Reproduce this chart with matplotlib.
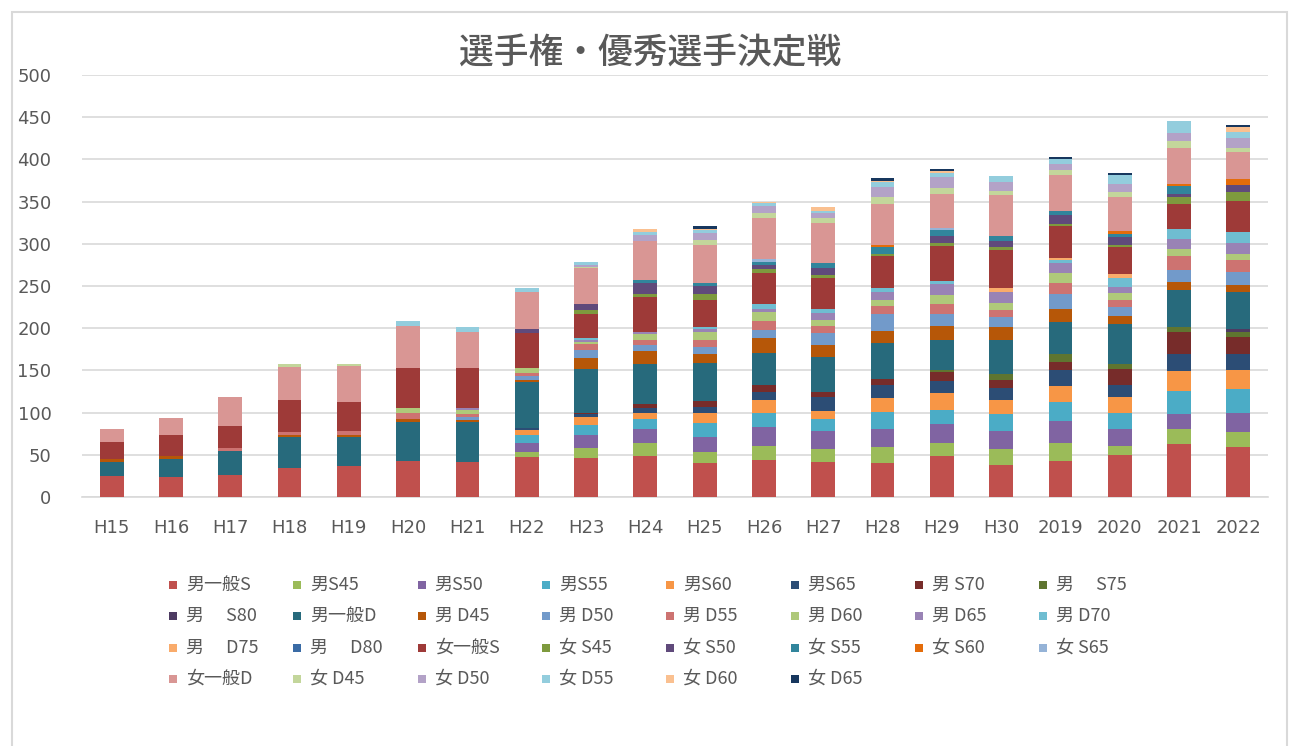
import matplotlib
matplotlib.use("Agg")
import matplotlib.pyplot as plt
import matplotlib.patches as mpatches
import numpy as np

plt.rcParams['font.family'] = ['Noto Sans CJK JP', 'DejaVu Sans']

# 年度
cats = ["H15", "H16", "H17", "H18", "H19", "H20", "H21", "H22", "H23", "H24",
        "H25", "H26", "H27", "H28", "H29", "H30", "2019", "2020", "2021", "2022"]

# 種目ごとの人数
m_ippan_s = [25, 24, 26, 34, 37, 43, 41, 47, 46, 48, 40, 44, 41, 40, 48, 38, 43, 50, 63, 59]
m_s45 = [0, 0, 0, 0, 0, 0, 0, 6, 12, 16, 13, 17, 16, 19, 16, 19, 21, 11, 17, 18]
m_s50 = [0, 0, 0, 0, 0, 0, 0, 11, 16, 16, 18, 22, 21, 22, 23, 21, 26, 20, 18, 23]
m_s55 = [0, 0, 0, 0, 0, 0, 0, 9, 11, 12, 17, 16, 14, 20, 16, 20, 23, 18, 28, 28]
m_s60 = [0, 0, 0, 0, 0, 0, 0, 6, 10, 7, 12, 16, 10, 16, 20, 17, 19, 19, 23, 22]
m_s65 = [0, 0, 0, 0, 0, 0, 0, 3, 3, 7, 7, 9, 16, 16, 15, 14, 18, 15, 21, 19]
m_s70 = [0, 0, 0, 0, 0, 0, 0, 0, 2, 4, 7, 9, 7, 7, 10, 10, 10, 19, 26, 21]
m_s75 = [0, 0, 0, 0, 0, 0, 0, 0, 0, 0, 0, 0, 0, 0, 2, 7, 9, 5, 5, 5]
m_s80 = [0, 0, 0, 0, 0, 0, 0, 0, 0, 0, 0, 0, 0, 0, 0, 0, 0, 0, 0, 4]
m_ippan_d = [16, 21, 28, 37, 34, 46, 48, 54, 52, 47, 45, 38, 41, 43, 36, 40, 38, 48, 44, 44]
m_d45 = [4, 3, 0, 3, 2, 3, 2, 3, 13, 16, 10, 17, 14, 14, 17, 16, 16, 9, 10, 8]
m_d50 = [0, 0, 0, 0, 0, 0, 4, 4, 9, 7, 9, 10, 14, 20, 14, 11, 18, 11, 14, 15]
m_d55 = [0, 0, 4, 3, 5, 7, 3, 4, 7, 6, 8, 10, 9, 9, 12, 9, 13, 9, 17, 15]
m_d60 = [0, 0, 0, 0, 0, 6, 5, 6, 3, 7, 9, 11, 7, 8, 10, 8, 11, 8, 8, 7]
m_d65 = [0, 0, 0, 0, 0, 0, 3, 0, 2, 2, 4, 4, 8, 9, 13, 13, 12, 7, 12, 13]
m_d70 = [0, 0, 0, 0, 0, 0, 0, 0, 2, 0, 3, 6, 5, 5, 4, 0, 4, 11, 11, 13]
m_d75 = [0, 0, 0, 0, 0, 0, 0, 0, 0, 0, 0, 0, 0, 0, 0, 5, 2, 4, 0, 0]
m_d80 = [0, 0, 0, 0, 0, 0, 0, 0, 0, 0, 0, 0, 0, 0, 0, 0, 0, 0, 0, 0]
w_ippan_s = [20, 26, 26, 38, 35, 48, 47, 41, 29, 42, 31, 36, 36, 37, 41, 45, 38, 32, 30, 37]
w_s45 = [0, 0, 0, 0, 0, 0, 0, 0, 5, 4, 7, 5, 4, 3, 4, 3, 3, 3, 9, 10]
w_s50 = [0, 0, 0, 0, 0, 0, 0, 5, 7, 12, 10, 5, 8, 0, 8, 7, 10, 9, 3, 9]
w_s55 = [0, 0, 0, 0, 0, 0, 0, 0, 0, 4, 3, 4, 6, 8, 7, 6, 5, 4, 9, 0]
w_s60 = [0, 0, 0, 0, 0, 0, 0, 0, 0, 0, 0, 0, 0, 3, 0, 0, 0, 3, 3, 7]
w_s65 = [0, 0, 0, 0, 0, 0, 0, 0, 0, 0, 0, 3, 0, 0, 3, 0, 0, 0, 0, 0]
w_ippan_d = [15, 20, 35, 39, 42, 50, 43, 44, 42, 46, 46, 48, 48, 48, 40, 49, 43, 41, 42, 32]
w_d45 = [0, 0, 0, 3, 3, 0, 0, 0, 2, 0, 6, 7, 5, 8, 7, 5, 5, 5, 9, 4]
w_d50 = [0, 0, 0, 0, 0, 0, 0, 0, 2, 8, 8, 8, 6, 12, 13, 10, 7, 10, 9, 12]
w_d55 = [0, 0, 0, 0, 0, 6, 5, 5, 3, 3, 3, 3, 3, 6, 5, 7, 6, 10, 14, 8]
w_d60 = [0, 0, 0, 0, 0, 0, 0, 0, 0, 3, 2, 2, 5, 2, 2, 0, 0, 0, 0, 5]
w_d65 = [0, 0, 0, 0, 0, 0, 0, 0, 0, 0, 3, 0, 0, 3, 3, 0, 3, 3, 0, 3]

labels = ["男一般S", "男S45", "男S50", "男S55", "男S60", "男S65", "男 S70", "男\u3000 S75",
          "男\u3000 S80", "男一般D", "男 D45", "男 D50", "男 D55", "男 D60", "男 D65", "男 D70",
          "男\u3000 D75", "男\u3000 D80", "女一般S", "女 S45", "女 S50", "女 S55", "女 S60", "女 S65",
          "女一般D", "女 D45", "女 D50", "女 D55", "女 D60", "女 D65"]
series = [m_ippan_s, m_s45, m_s50, m_s55, m_s60, m_s65, m_s70, m_s75,
          m_s80, m_ippan_d, m_d45, m_d50, m_d55, m_d60, m_d65, m_d70,
          m_d75, m_d80, w_ippan_s, w_s45, w_s50, w_s55, w_s60, w_s65,
          w_ippan_d, w_d45, w_d50, w_d55, w_d60, w_d65]
colors = ["#C0504D", "#9BBB59", "#8064A2", "#4BACC6", "#F79646", "#2C4D75", "#772C2A", "#5F7530",
          "#4D3B62", "#276A7C", "#B65708", "#729ACA", "#CD7371", "#AFC97A", "#9983B5", "#6FBDD1",
          "#F9AB6B", "#3A6BA5", "#9E3A38", "#7E9A3E", "#604A7B", "#31859C", "#E46C0A", "#95B3D7",
          "#D99694", "#C3D69B", "#B3A2C7", "#93CDDD", "#FAC090", "#17375E"]

W, H = 1291, 746
fig = plt.figure(figsize=(W / 100, H / 100), dpi=100)
fig.patches.append(mpatches.Rectangle((12 / W, -0.01), (1287 - 12) / W, (H - 12) / H + 0.01,
                                      transform=fig.transFigure, fill=False,
                                      edgecolor="#D9D9D9", linewidth=1.5))

ax = fig.add_axes([82 / W, (H - 497) / H, (1268 - 82) / W, (497 - 75) / H])
x = np.arange(len(cats))
bottom = np.zeros(len(cats))
for vals, col, lab in zip(series, colors, labels):
    v = np.array(vals, dtype=float)
    ax.bar(x, v, width=0.40, bottom=bottom, color=col, label=lab, zorder=3)
    bottom += v

ax.set_xlim(-0.5, len(cats) - 0.5)
ax.set_ylim(0, 500)
ax.set_yticks(np.arange(0, 501, 50))
ax.set_xticks(x)
ax.set_xticklabels(cats)
ax.grid(axis="y", color="#D9D9D9", linewidth=1.2, zorder=0)
for s in ["top", "right", "left"]:
    ax.spines[s].set_visible(False)
ax.spines["bottom"].set_color("#D9D9D9")
ax.spines["bottom"].set_linewidth(1.2)
ax.tick_params(axis="both", length=0, labelcolor="#595959")
ax.tick_params(axis="y", pad=22)
ax.tick_params(axis="x", pad=16)
for t in ax.get_xticklabels() + ax.get_yticklabels():
    t.set_family(["DejaVu Sans"])
    t.set_fontsize(13)

fig.text(650 / W, 1 - 53 / H, "選手権・優秀選手決定戦", ha="center", va="center",
         fontsize=25, fontweight="medium", color="#595959")

# 凡例 (8列)
for i, (lab, col) in enumerate(zip(labels, colors)):
    r, c = divmod(i, 8)
    px = 169 + c * 124.3
    py = 585 + r * 31.3
    fig.patches.append(mpatches.Rectangle((px / W, 1 - (py + 4) / H), 8 / W, 8 / H,
                                          transform=fig.transFigure, facecolor=col,
                                          edgecolor="none"))
    fig.text((px + 17) / W, 1 - py / H, lab, ha="left", va="center",
             fontsize=13, color="#595959")

fig.savefig("out.png", dpi=100)
